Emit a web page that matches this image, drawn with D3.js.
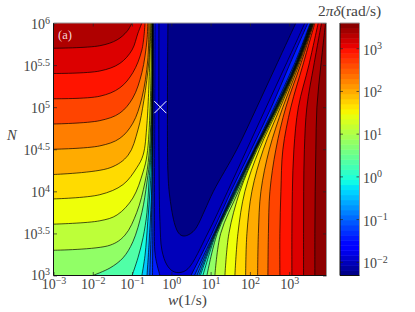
<!DOCTYPE html>
<html><head><meta charset="utf-8">
<style>html,body{margin:0;padding:0;background:#fff}svg{display:block}
text{font-family:"Liberation Serif",serif;fill:#444}</style>
<script src="https://cdn.jsdelivr.net/npm/d3@7"></script></head><body>
<svg id="c" width="415" height="312"></svg>
<script>
// log10 axis tick values
const xTicks=[-3,-2,-1,0,1,2,3];
const yTicks=[3,3.5,4,4.5,5,5.5,6];
const cbTicks=[-2,-1,0,1,2,3];
const xDomain=[-3,3.95];
const yDomain=[3,6];
const cbDomain=[-2.32,3.59];
// log10(N) rows at which the right-hand branch of each contour was read
const rightRows=[3,3.5,4,4.5,5,5.5,6];
// right-hand branches: log10(w) at each row
const rightBranches=[
[3.654,3.654,3.662,3.679,3.705,3.807,3.926],
[3.366,3.366,3.369,3.387,3.450,3.628,3.824],
[3.069,3.069,3.081,3.120,3.234,3.501,3.738],
[2.763,2.763,2.789,2.840,3.043,3.349,3.654],
[2.458,2.471,2.509,2.662,2.916,3.285,3.628],
[2.196,2.216,2.280,2.496,2.840,3.247,3.618],
[1.891,1.924,2.051,2.344,2.776,3.221,3.611],
[1.618,1.695,1.873,2.242,2.738,3.209,3.603],
[1.364,1.466,1.746,2.191,2.718,3.196,3.595],
[1.109,1.257,1.707,2.165,2.702,3.188,3.588],
[0.906,1.170,1.667,2.150,2.692,3.181,3.580],
[0.804,1.142,1.644,2.142,2.682,3.173,3.573],
[0.740,1.127,1.629,2.135,2.672,3.165,3.565],
[0.702,1.114,1.616,2.127,2.662,3.155,3.557],
[0.651,1.102,1.601,2.117,2.649,3.145,3.547],
[0.588,1.084,1.580,2.102,2.623,3.120,3.537],
[0.499,1.033,1.517,2.038,2.547,3.005,3.476]
];
// left-hand branches: [log10 w, log10 N], from the left/bottom edge up to the top edge
const leftBranches=[
null,
[[-3,5.70],[-1.82,5.73],[-1.38,5.80],[-1.13,5.90],[-1,6]],
[[-3,5.40],[-1.82,5.43],[-1.31,5.52],[-1,5.68],[-.85,5.88],[-.75,6]],
[[-3,5.10],[-1.82,5.13],[-1.31,5.23],[-.98,5.41],[-.75,5.68],[-.67,6]],
[[-3,4.80],[-1.82,4.84],[-1.31,4.93],[-.98,5.11],[-.75,5.41],[-.62,5.80],[-.60,6]],
[[-3,4.50],[-1.82,4.54],[-1.31,4.63],[-.98,4.81],[-.75,5.11],[-.60,5.56],[-.57,6]],
[[-3,4.20],[-1.56,4.28],[-1.10,4.43],[-.85,4.73],[-.70,5.08],[-.57,5.56],[-.54,6]],
[[-3,3.91],[-1.82,3.96],[-1.23,4.08],[-.88,4.28],[-.72,4.43],[-.62,4.81],[-.52,6]],
[[-3,3.61],[-1.82,3.65],[-1.38,3.72],[-.98,3.92],[-.72,4.23],[-.62,4.43],[-.54,5],[-.50,6]],
[[-3,3.30],[-1.56,3.36],[-1.18,3.48],[-.88,3.75],[-.67,4.11],[-.57,4.43],[-.50,5.2],[-.49,6]],
[[-2,3],[-1.56,3.09],[-1.23,3.21],[-.98,3.40],[-.75,3.75],[-.62,4.11],[-.54,4.43],[-.49,5.2],[-.485,6]],
[[-1,3],[-.85,3.21],[-.72,3.45],[-.62,3.75],[-.57,4.11],[-.52,4.43],[-.48,5.2],[-.48,6]],
[[-.75,3],[-.67,3.24],[-.60,3.64],[-.54,4.04],[-.50,4.43],[-.475,6]],
[[-.62,3],[-.57,3.36],[-.50,4.04],[-.48,4.8],[-.47,6]],
[[-.55,3],[-.51,3.6],[-.48,4.4],[-.465,6]],
[[-.48,3],[-.47,3.6],[-.465,4.4],[-.46,6]],
[[-.29,3],[-.41,3.24],[-.43,3.72],[-.425,4.5],[-.417,6]]
];
// the two innermost contours are closed U shapes open at the top
const innerContourA=[[-.316,6],[-.316,4.43],[-.29,3.64],[-.24,3.30],[-.112,3.125],[.041,3.05],[.219,3.035],[.422,3.08],[.931,3.505],[1.433,4],[1.924,4.5],[2.416,5],[2.910,5.5],[3.4,6]];
const innerContourB=[[-.087,6],[-.087,4.23],[-.036,3.92],[.092,3.6],[.193,3.5],[.295,3.47],[.422,3.48],[.55,3.52],[.651,3.58],[.855,3.78],[1.071,4],[1.669,4.5],[2.178,5],[2.674,5.5],[3.17,6]];
// log10(delta) painted outside all contours, then inside each successive contour
const outerBand=3.52;
const bandValues=[3.35,3.12,2.93,2.63,2.27,1.99,1.69,1.46,1.11,.79,.32,-.07,-.43,-.88,-1.15,-1.4,-1.88];
const innerBandA=-2.02, innerBandB=-2.28;
const marker=[-.28,5];

const jet=t=>{
  const c=(pts)=>{for(let i=1;i<pts.length;i++){if(t<=pts[i][0]){const[a,b]=[pts[i-1],pts[i]];return a[1]+(b[1]-a[1])*(t-a[0])/(b[0]-a[0]);}}return pts[pts.length-1][1];};
  const r=c([[0,0],[.35,0],[.66,1],[.89,1],[1,.5]]),g=c([[0,0],[.125,0],[.375,1],[.64,1],[.91,0],[1,0]]),b=c([[0,.5],[.11,1],[.34,1],[.65,0],[1,0]]);
  return d3.rgb(r*255,g*255,b*255).formatHex();
};
const colorT=d3.scaleLinear().domain(cbDomain).range([0,1]).clamp(true);
const col=v=>jet(colorT(v));

const L=53.5,R=326.5,T=23,B=275.5,CL=340,CR=359.5;
const x=d3.scaleLinear().domain(xDomain).range([L,R]);
const y=d3.scaleLinear().domain(yDomain).range([B,T]);
const cy=d3.scaleLinear().domain(cbDomain).range([B,T]);
const svg=d3.select("#c");
const line=d3.line().x(d=>x(d[0])).y(d=>y(d[1])).curve(d3.curveCatmullRom.alpha(.5));

svg.append("clipPath").attr("id","pc").append("rect").attr("x",L).attr("y",T).attr("width",R-L).attr("height",B-T);
const g=svg.append("g").attr("clip-path","url(#pc)");
g.append("rect").attr("x",L).attr("y",T).attr("width",R-L).attr("height",B-T).attr("fill",col(outerBand));

const lineStyle=s=>s.attr("fill","none").attr("stroke","#000").attr("stroke-width",.8).attr("stroke-opacity",.85);
const regions=rightBranches.map((rb,i)=>{
  const right=rb.map((w,j)=>[w,rightRows[j]]);
  return {left:leftBranches[i],right,value:bandValues[i]};
});
regions.forEach(r=>{
  const rr=r.right.slice().reverse();
  const corners=r.left&&r.left[0][0]>-3? "" : `L${x(-3)},${y(3)}`;
  let d;
  if(r.left) d=line(r.left)+line(rr).replace(/^M/,"L")+corners+"Z";
  else d=`M${x(-3)},${y(3)}L${x(-3)},${y(6)}`+line(rr).replace(/^M/,"L")+"Z";
  g.append("path").attr("d",d).attr("fill",col(r.value));
});
[[innerContourA,innerBandA],[innerContourB,innerBandB]].forEach(([c,v])=>{
  g.append("path").attr("d",line(c)+"Z").attr("fill",col(v));
});
regions.forEach(r=>{
  if(r.left) g.append("path").attr("d",line(r.left)).call(lineStyle);
  g.append("path").attr("d",line(r.right)).call(lineStyle);
});
[innerContourA,innerContourB].forEach(c=>g.append("path").attr("d",line(c)).call(lineStyle));

// marker
svg.append("path").attr("d",d3.symbol(d3.symbolX,96)()).attr("transform",`translate(${x(marker[0])},${y(marker[1])})`)
  .attr("fill","none").attr("stroke","#fff").attr("stroke-width",1);
// panel label
svg.append("text").attr("x",58).attr("y",39).attr("font-size",12.5).style("fill","#f5d5d5").text("(a)");

// exponent-style tick labels
const expLabel=(sel,fmt)=>{
  sel.each(function(d){
    const t=d3.select(this);t.text(null);
    t.append("tspan").attr("font-size",14).text("10");
    t.append("tspan").attr("font-size",10).attr("dy",-5.5).text(fmt(d));
  });
};
const sup=d=>String(d).replace("-","\u2212");
const styleAxis=(a)=>{a.select(".domain").remove();a.selectAll("line").attr("stroke","#222").attr("stroke-width",.7);};

const ax=svg.append("g").attr("transform",`translate(0,${B})`).call(d3.axisBottom(x).tickValues(xTicks).tickSizeInner(-3.5).tickPadding(7));
styleAxis(ax);ax.selectAll("text").attr("y",13.5).attr("dy",0).attr("font-family",null).call(expLabel,sup);
const axT=svg.append("g").attr("transform",`translate(0,${T})`).call(d3.axisTop(x).tickValues(xTicks).tickSizeInner(-3.5).tickFormat(""));
styleAxis(axT);
const ay=svg.append("g").attr("transform",`translate(${L},0)`).call(d3.axisLeft(y).tickValues(yTicks).tickSizeInner(-3.5).tickPadding(4));
styleAxis(ay);ay.selectAll("text").attr("x",-3.5).attr("dy",d=>d===3?4:5.5).attr("font-family",null).call(expLabel,sup);
const ayR=svg.append("g").attr("transform",`translate(${R},0)`).call(d3.axisRight(y).tickValues(yTicks).tickSizeInner(-3.5).tickFormat(""));
styleAxis(ayR);

// frame
const frame=(l,r,t,b)=>{
  svg.append("line").attr("x1",l).attr("x2",r).attr("y1",b).attr("y2",b).attr("stroke","#111").attr("stroke-width",1);
  svg.append("line").attr("x1",l).attr("x2",l).attr("y1",t).attr("y2",b).attr("stroke","#111").attr("stroke-width",1);
  svg.append("line").attr("x1",l).attr("x2",r).attr("y1",t).attr("y2",t).attr("stroke","#999").attr("stroke-width",1);
  svg.append("line").attr("x1",r).attr("x2",r).attr("y1",t).attr("y2",b).attr("stroke","#999").attr("stroke-width",1);
};
frame(L,R,T,B);

// axis titles
const xt=svg.append("text").attr("x",187.5).attr("y",305).attr("text-anchor","middle").attr("font-size",15.5);
xt.append("tspan").attr("font-style","italic").text("w");xt.append("tspan").text("(1/s)");
svg.append("text").attr("x",7).attr("y",140).attr("font-size",14.5).attr("font-style","italic").text("N");

// colour bar
const cbSteps=d3.range(50);
const cbStep=(cbDomain[1]-cbDomain[0])/cbSteps.length;
svg.append("g").selectAll("rect").data(cbSteps).join("rect")
  .attr("x",CL).attr("width",CR-CL)
  .attr("y",i=>cy(cbDomain[0]+(i+1)*cbStep))
  .attr("height",i=>cy(cbDomain[0]+i*cbStep)-cy(cbDomain[0]+(i+1)*cbStep)+.5)
  .attr("fill",i=>col(cbDomain[0]+(i+.5)*cbStep));
const ac=svg.append("g").attr("transform",`translate(${CR},0)`).call(d3.axisRight(cy).tickValues(cbTicks).tickSizeInner(-3).tickPadding(4));
styleAxis(ac);ac.selectAll("text").attr("x",3.5).attr("dy",6).attr("font-family",null).call(expLabel,sup);
const acL=svg.append("g").attr("transform",`translate(${CL},0)`).call(d3.axisLeft(cy).tickValues(cbTicks).tickSizeInner(-3).tickFormat(""));
styleAxis(acL);
frame(CL,CR,T,B);
const ct=svg.append("text").attr("x",318).attr("y",16).attr("font-size",15.5);
ct.append("tspan").text("2");ct.append("tspan").attr("font-style","italic").text("\u03c0\u03b4");ct.append("tspan").text("(rad/s)");
</script></body></html>
